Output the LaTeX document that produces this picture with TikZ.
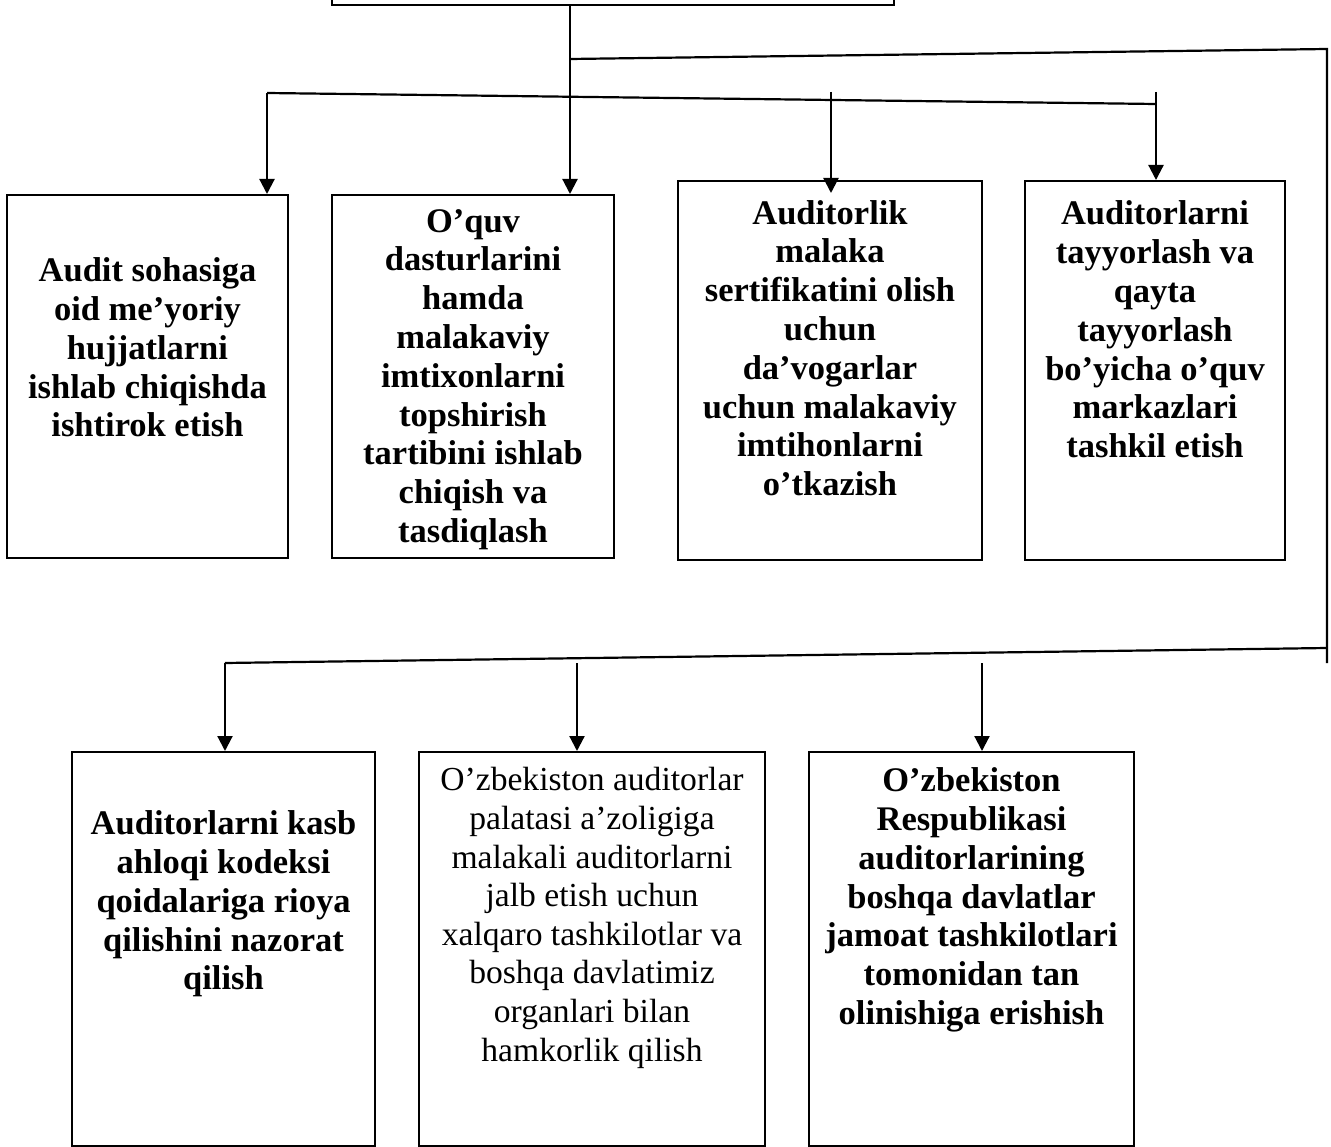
\documentclass[tikz,border=0pt]{standalone}
\usepackage{fontspec}
\setmainfont{Liberation Serif}
\usetikzlibrary{arrows.meta}
\begin{document}
\begin{tikzpicture}[x=1pt,y=-1pt,
  box/.style={draw,line width=2pt,inner sep=0pt},
  txt/.style={align=center,font=\fontsize{34.5}{38.8}\selectfont\bfseries,inner sep=0pt},
  txtreg/.style={align=center,font=\fontsize{33.6}{38.6}\selectfont,inner sep=0pt},
  conn/.style={line width=2.2pt},
  arr/.style={line width=2.2pt,-{Triangle[length=15pt 0 0,width=15pt 0 0]}}]
\useasboundingbox[fill=white] (0,0) rectangle (1331,1147);
\clip (0,0) rectangle (1331,1147);

% boxes
\node[box,minimum width=562pt,minimum height=100pt] (top) at (613,-45) {};
\node[box,minimum width=281pt,minimum height=363pt] (b1) at (147.5,376.5) {};
\node[box,minimum width=282pt,minimum height=363pt] (b2) at (473,376.5) {};
\node[box,minimum width=304pt,minimum height=379pt] (b3) at (830,370.5) {};
\node[box,minimum width=260pt,minimum height=379pt] (b4) at (1155,370.5) {};
\node[box,minimum width=303pt,minimum height=394pt] (b5) at (223.5,949) {};
\node[box,minimum width=346pt,minimum height=394pt] (b6) at (592,949) {};
\node[box,minimum width=325pt,minimum height=394pt] (b7) at (971.5,949) {};

% texts
\node[txt] (t1) at (147.5,347.5) {Audit sohasiga\\oid me’yoriy\\hujjatlarni\\ishlab chiqishda\\ishtirok etish};
\node[txt] (t2) at (473,379.5) {O’quv\\dasturlarini\\hamda\\malakaviy\\imtixonlarni\\topshirish\\tartibini ishlab\\chiqish va\\tasdiqlash};
\node[txt] (t3) at (830,348) {Auditorlik\\malaka\\sertifikatini olish\\uchun\\da’vogarlar\\uchun malakaviy\\imtihonlarni\\o’tkazish};
\node[txt] (t4) at (1155,329.5) {Auditorlarni\\tayyorlash va\\qayta\\tayyorlash\\bo’yicha o’quv\\markazlari\\tashkil etish};
\node[txt] (t5) at (223.5,904) {Auditorlarni kasb\\ahloqi kodeksi\\qoidalariga rioya\\qilishini nazorat\\qilish};
\node[txtreg] (t6) at (592,918) {O’zbekiston auditorlar\\palatasi a’zoligiga\\malakali auditorlarni\\jalb etish uchun\\xalqaro tashkilotlar va\\boshqa davlatimiz\\organlari bilan\\hamkorlik qilish};
\node[txt] (t7) at (971.5,900) {O’zbekiston\\Respublikasi\\auditorlarining\\boshqa davlatlar\\jamoat tashkilotlari\\tomonidan tan\\olinishiga erishish};

% junction coordinates
\coordinate (j0) at (570,59);
\coordinate (r0) at (1327,49);
\coordinate (r1) at (1327,648);
\coordinate (r2) at (1327,663);
\coordinate (l0) at (267,93);
\coordinate (l1) at (1156,104);
\coordinate (m3) at (831,92);
\coordinate (m4) at (1156,92);
\coordinate (m3tip) at (831,193);
\coordinate (k0) at (225,663);
\coordinate (k2) at (577,663);
\coordinate (k3) at (982,663);

% connectors
\draw[arr] (top.south -| j0) -- (j0 |- b2.north);
\draw[conn] (j0) -- (r0) -- (r2);
\draw[conn] (l0) -- (l1);
\draw[arr] (l0) -- (l0 |- b1.north);
\draw[arr] (m3) -- (m3tip);
\draw[arr] (m4) -- (m4 |- b4.north);
\draw[conn] (r1) -- (k0);
\draw[arr] (k0) -- (k0 |- b5.north);
\draw[arr] (k2) -- (k2 |- b6.north);
\draw[arr] (k3) -- (k3 |- b7.north);
\end{tikzpicture}
\end{document}
